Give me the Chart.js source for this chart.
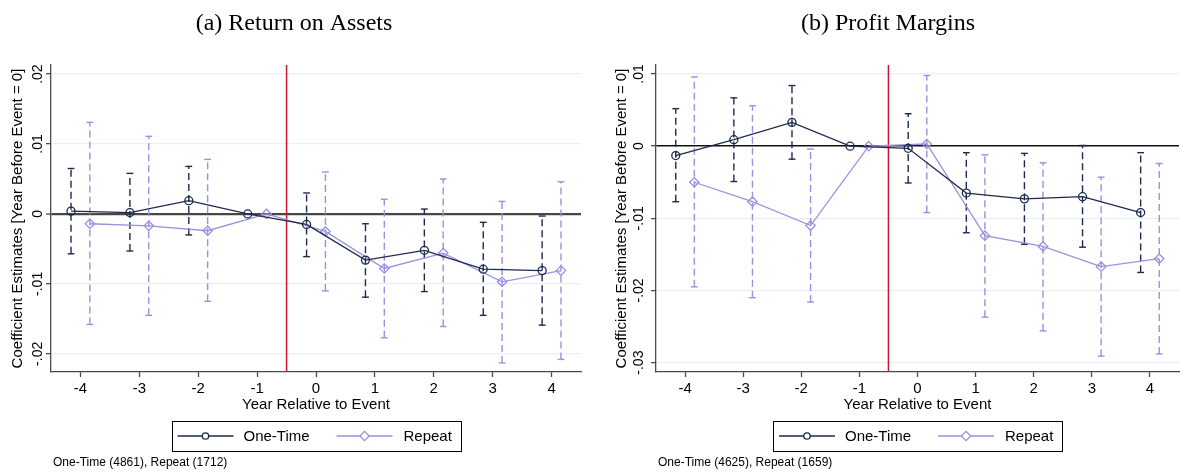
<!DOCTYPE html>
<html><head><meta charset="utf-8">
<script src="https://cdn.jsdelivr.net/npm/chart.js@4.4.1/dist/chart.umd.min.js"></script>
<style>
html,body{margin:0;padding:0;background:#fff;overflow:hidden;width:1182px;height:473px;}
#wrap{position:relative;width:1182px;height:473px;overflow:hidden;background:#fff;}
#c1{position:absolute;left:0;top:0;}
#c2{position:absolute;left:591px;top:0;}
</style></head><body>
<div id="wrap"><canvas id="c1" width="591" height="473"></canvas><canvas id="c2" width="594" height="473"></canvas></div>
<script>
// ---------- data ----------
const YEARS = [-4, -3, -2, -1, 0, 1, 2, 3, 4];
const X_TICKS = [-4, -3, -2, -1, 0, 1, 2, 3, 4];
const X_TICK_LABELS = ['-4', '-3', '-2', '-1', '0', '1', '2', '3', '4'];
const X_TITLE = 'Year Relative to Event';
const Y_TITLE = 'Coefficient Estimates [Year Before Event = 0]';
const SERIES_NAMES = ['One-Time', 'Repeat'];
const EVENT_X = -0.5;

// (a) Return on Assets
const ROA_ONE    = [0.0004, 0.0002, 0.0019, 0, -0.0015, -0.0066, -0.0052, -0.0079, -0.0081];
const ROA_ONE_LO = [-0.0057, -0.0053, -0.0030, null, -0.0061, -0.0119, -0.0111, -0.0145, -0.0159];
const ROA_ONE_HI = [0.0065, 0.0058, 0.0068, null, 0.0030, -0.0014, 0.0007, -0.0012, -0.0003];
const ROA_REP    = [-0.0014, -0.0017, -0.0024, 0, -0.0025, -0.0078, -0.0056, -0.0097, -0.0081];
const ROA_REP_LO = [-0.0158, -0.0145, -0.0125, null, -0.0110, -0.0177, -0.0161, -0.0213, -0.0208];
const ROA_REP_HI = [0.0131, 0.0111, 0.0078, null, 0.0060, 0.0021, 0.0050, 0.0018, 0.0046];
const ROA_Y_TICKS = [-0.02, -0.01, 0, 0.01, 0.02];
const ROA_Y_LABELS = ['-.02', '-.01', '0', '.01', '.02'];

// (b) Profit Margins
const PM_ONE    = [-0.0013, 0.0009, 0.0033, 0, -0.0003, -0.0065, -0.0073, -0.0070, -0.0092];
const PM_ONE_LO = [-0.0077, -0.0049, -0.0018, null, -0.0051, -0.0120, -0.0136, -0.0140, -0.0175];
const PM_ONE_HI = [0.0052, 0.0067, 0.0084, null, 0.0045, -0.0009, -0.0010, 0.0001, -0.0009];
const PM_REP    = [-0.0050, -0.0077, -0.0110, 0, 0.0003, -0.0124, -0.0139, -0.0167, -0.0156];
const PM_REP_LO = [-0.0195, -0.0210, -0.0216, null, -0.0092, -0.0237, -0.0256, -0.0291, -0.0288];
const PM_REP_HI = [0.0096, 0.0056, -0.0004, null, 0.0098, -0.0012, -0.0023, -0.0043, -0.0024];
const PM_Y_TICKS = [-0.03, -0.02, -0.01, 0, 0.01];
const PM_Y_LABELS = ['-.03', '-.02', '-.01', '0', '.01'];

// ---------- style ----------
const SANS = '"Liberation Sans", Arial, Helvetica, sans-serif';
const SERIF = '"Liberation Serif", "Times New Roman", serif';
const NAVY = '#1b2a4e';
const LAV = '#9a91df';
const RED = '#cc1638';
const AXIS = '#4a4a4a';
const GRID = '#e9f0f1';
const OFF_ONE = -0.16, OFF_REP = 0.16;

function ciDataset(x, lo, hi, color) {
  return {
    label: '_ci', data: [{x: x, y: lo}, {x: x, y: hi}],
    showLine: true, borderColor: color, borderWidth: 1.4, borderDash: [7, 4],
    pointStyle: 'line', pointRadius: 3.4, pointBorderWidth: 1.4,
    pointBorderColor: color, pointBackgroundColor: color, pointHoverRadius: 3.4
  };
}

const decor = {
  id: 'decor',
  afterDraw(chart, args, o) {
    const ctx = chart.ctx, ca = chart.chartArea, ys = chart.scales.y;
    ctx.save();
    ctx.fillStyle = '#000';
    // title
    ctx.font = '24px ' + SERIF; ctx.textAlign = 'center'; ctx.textBaseline = 'alphabetic';
    ctx.fillText(o.title, o.titleX, 30);
    // y tick labels (rotated, Stata style)
    ctx.font = '14px ' + SANS;
    o.yTicks.forEach((v, i) => {
      const py = ys.getPixelForValue(v);
      ctx.save(); ctx.translate(o.yTickX, py); ctx.rotate(-Math.PI / 2);
      ctx.textAlign = 'center'; ctx.textBaseline = 'middle';
      ctx.fillText(o.yLabels[i], 0, 0); ctx.restore();
    });
    // y title
    ctx.font = '15px ' + SANS;
    ctx.save(); ctx.translate(o.yTitleX, (ca.top + ca.bottom) / 2); ctx.rotate(-Math.PI / 2);
    ctx.textAlign = 'center'; ctx.textBaseline = 'middle'; ctx.fillText(Y_TITLE, 0, 0); ctx.restore();
    // x title
    ctx.textAlign = 'center'; ctx.textBaseline = 'middle';
    ctx.fillText(X_TITLE, (ca.left + ca.right) / 2, 405);
    // legend
    const bw = 289, bh = 30, bx = (ca.left + ca.right) / 2 - bw / 2, by = 421;
    const cy = by + bh / 2;
    ctx.strokeStyle = '#000'; ctx.lineWidth = 1;
    ctx.strokeRect(Math.round(bx) + 0.5, by + 0.5, bw, bh);
    // one-time
    ctx.strokeStyle = NAVY; ctx.lineWidth = 1.3;
    ctx.beginPath(); ctx.moveTo(bx + 6, cy); ctx.lineTo(bx + 62, cy); ctx.stroke();
    ctx.fillStyle = '#fff';
    ctx.beginPath(); ctx.arc(bx + 34, cy, 3.2, 0, Math.PI * 2); ctx.fill(); ctx.stroke();
    // repeat
    ctx.strokeStyle = LAV;
    ctx.beginPath(); ctx.moveTo(bx + 165, cy); ctx.lineTo(bx + 221, cy); ctx.stroke();
    const dx = bx + 193, r = 4.7;
    ctx.beginPath(); ctx.moveTo(dx - r, cy); ctx.lineTo(dx, cy - r); ctx.lineTo(dx + r, cy); ctx.lineTo(dx, cy + r); ctx.closePath();
    ctx.fill(); ctx.stroke();
    ctx.fillStyle = '#000'; ctx.font = '15px ' + SANS; ctx.textAlign = 'left'; ctx.textBaseline = 'middle';
    ctx.fillText(SERIES_NAMES[0], bx + 72, cy + 1);
    ctx.fillText(SERIES_NAMES[1], bx + 232, cy + 1);
    // footnote
    ctx.font = '12px ' + SANS; ctx.textAlign = 'left';
    ctx.fillText(o.note, o.noteX, 463);
    ctx.restore();
  }
};

function buildChart(id, p) {
  const ds = [];
  ds.push({
    label: SERIES_NAMES[0], data: YEARS.map((x, i) => ({x: x + OFF_ONE, y: p.one[i]})),
    showLine: true, borderColor: NAVY, borderWidth: 1.3,
    pointStyle: 'circle', pointRadius: 4, pointBorderWidth: 1.3,
    pointBorderColor: NAVY, pointBackgroundColor: 'rgba(0,0,0,0)'
  });
  ds.push({
    label: SERIES_NAMES[1], data: YEARS.map((x, i) => ({x: x + OFF_REP, y: p.rep[i]})),
    showLine: true, borderColor: LAV, borderWidth: 1.3,
    pointStyle: 'rectRot', pointRadius: 4.7, pointBorderWidth: 1.3,
    pointBorderColor: LAV, pointBackgroundColor: 'rgba(0,0,0,0)'
  });
  YEARS.forEach((x, i) => { if (p.oneLo[i] !== null) ds.push(ciDataset(x + OFF_ONE, p.oneLo[i], p.oneHi[i], NAVY)); });
  YEARS.forEach((x, i) => { if (p.repLo[i] !== null) ds.push(ciDataset(x + OFF_REP, p.repLo[i], p.repHi[i], LAV)); });
  ds.push({
    label: '_event', data: [{x: EVENT_X, y: p.yMin}, {x: EVENT_X, y: p.yMax}],
    showLine: true, borderColor: RED, borderWidth: 1.5, pointRadius: 0
  });

  return new Chart(document.getElementById(id), {
    type: 'scatter',
    data: {datasets: ds},
    options: {
      responsive: false, animation: false, events: [],
      layout: {padding: {left: 0, right: p.padRight, top: 65, bottom: 0}},
      plugins: {legend: {display: false}, tooltip: {enabled: false}, title: {display: false}, decor: p.decor},
      scales: {
        x: {
          type: 'linear', min: -4.5, max: 4.5,
          afterBuildTicks: s => { s.ticks = X_TICKS.map(v => ({value: v})); },
          afterFit: s => { s.height = 101; },
          ticks: {color: '#000', font: {family: SANS, size: 15}, padding: 3, maxRotation: 0, autoSkip: false,
                  callback: (v, i) => X_TICK_LABELS[i]},
          grid: {drawOnChartArea: false, drawTicks: true, tickLength: 5, tickColor: AXIS, tickWidth: 1.3},
          border: {color: AXIS, width: 1.3}
        },
        y: {
          type: 'linear', min: p.yMin, max: p.yMax,
          afterBuildTicks: s => { s.ticks = p.decor.yTicks.map(v => ({value: v})); },
          afterFit: s => { s.width = p.yAxisW; },
          ticks: {display: false},
          grid: {
            color: c => (c.tick && c.tick.value === 0) ? p.zeroColor : GRID,
            lineWidth: c => (c.tick && c.tick.value === 0) ? p.zeroW : 1.3,
            drawTicks: true, tickLength: 5, tickColor: AXIS, tickWidth: 1.3
          },
          border: {color: AXIS, width: 1.3}
        }
      }
    },
    plugins: [decor]
  });
}

buildChart('c1', {
  one: ROA_ONE, oneLo: ROA_ONE_LO, oneHi: ROA_ONE_HI,
  rep: ROA_REP, repLo: ROA_REP_LO, repHi: ROA_REP_HI,
  yMin: -0.0226, yMax: 0.0213, yAxisW: 51, padRight: 10,
  zeroColor: '#474747', zeroW: 2.2,
  decor: {title: '(a) Return on Assets', titleX: 294, yTicks: ROA_Y_TICKS, yLabels: ROA_Y_LABELS,
          yTickX: 38.5, yTitleX: 17.5, note: 'One-Time (4861), Repeat (1712)', noteX: 53}
});
buildChart('c2', {
  one: PM_ONE, oneLo: PM_ONE_LO, oneHi: PM_ONE_HI,
  rep: PM_REP, repLo: PM_REP_LO, repHi: PM_REP_HI,
  yMin: -0.0313, yMax: 0.01125, yAxisW: 65, padRight: 0,
  zeroColor: '#111111', zeroW: 1.4,
  decor: {title: '(b) Profit Margins', titleX: 297, yTicks: PM_Y_TICKS, yLabels: PM_Y_LABELS,
          yTickX: 48.5, yTitleX: 31, note: 'One-Time (4625), Repeat (1659)', noteX: 67}
});
</script></body></html>
